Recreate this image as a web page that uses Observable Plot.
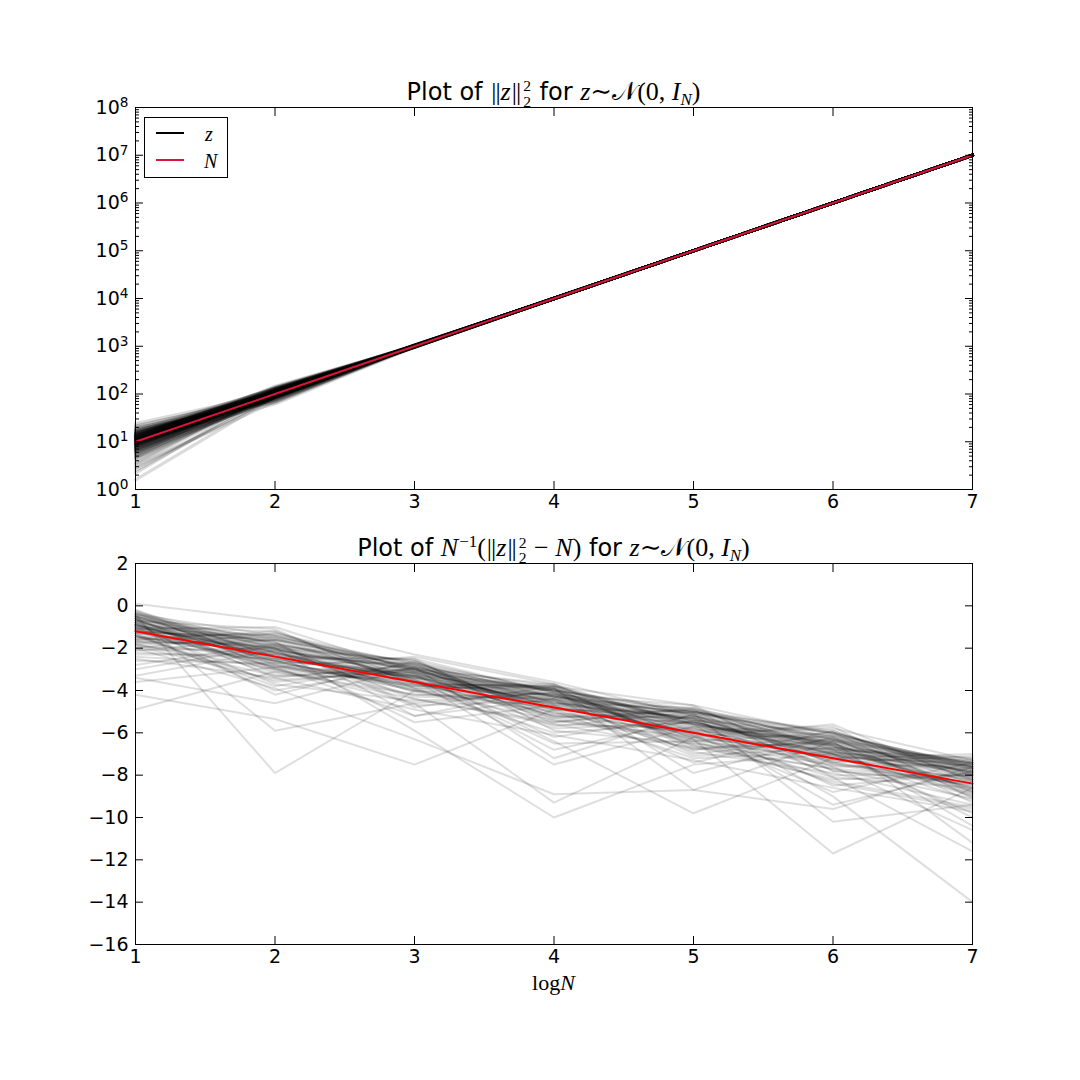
<!DOCTYPE html>
<html>
<head>
<meta charset="utf-8">
<script src="https://cdn.jsdelivr.net/npm/d3@7"></script>
<script src="https://cdn.jsdelivr.net/npm/@observablehq/plot@0.6"></script>
<style>
  html, body { margin: 0; padding: 0; background: #ffffff; }
  #wrap { position: relative; width: 1080px; height: 1080px; background: #ffffff; overflow: hidden; font-family: "DejaVu Sans", sans-serif; color: #000; }
  .panel { position: absolute; left: 0; }
  .title { position: absolute; left: 135px; width: 837px; text-align: center; font-size: 24px; line-height: 28px; white-space: nowrap; }
  .m { font-family: "Liberation Serif", "DejaVu Serif", serif; font-size: 26px; }
  .m i { font-style: italic; }
  .bar { letter-spacing: -1px; margin: 0 1px; }
  .ss { display: inline-block; vertical-align: -0.45em; font-size: 0.6em; line-height: 1.0em; text-align: left; margin-left: 2px; margin-right: 1px; }
  .ss span { display: block; }
  .sub { font-size: 0.65em; vertical-align: -0.3em; }
  .sup { font-size: 0.65em; vertical-align: 0.55em; margin-left: 1px; }
  .legend { position: absolute; left: 144px; top: 117px; width: 82px; height: 59px; border: 1px solid #000; background: #fff; }
  .lg-line { position: absolute; left: 11px; width: 28px; height: 2px; }
  .lg-text { position: absolute; font-family: "Liberation Serif", "DejaVu Serif", serif; font-style: italic; font-size: 20px; line-height: 20px; }
  .xlabel { position: absolute; left: 135px; width: 837px; top: 970px; text-align: center; font-family: "Liberation Serif", "DejaVu Serif", serif; font-size: 22px; }
</style>
</head>
<body>
<div id="wrap">
  <div class="panel" id="topPanel" style="top:0px"></div>
  <div class="panel" id="bottomPanel" style="top:530px"></div>
  <div class="title" style="top:78px">Plot of <span class="m"><span class="bar">||</span><i>z</i><span class="bar">||</span><span class="ss"><span>2</span><span>2</span></span></span> for <span class="m"><i>z</i>∼𝒩(0, <i>I</i><span class="sub"><i>N</i></span>)</span></div>
  <div class="title" style="top:528px">Plot of <span class="m"><i>N</i><span class="sup">−1</span>(<span class="bar">||</span><i>z</i><span class="bar">||</span><span class="ss"><span>2</span><span>2</span></span> − <i>N</i>)</span> for <span class="m"><i>z</i>∼𝒩(0, <i>I</i><span class="sub"><i>N</i></span>)</span></div>
  <div class="legend">
    <div class="lg-line" style="top:14px;background:#000"></div>
    <div class="lg-text" style="left:60px;top:6px">z</div>
    <div class="lg-line" style="top:41px;background:crimson"></div>
    <div class="lg-text" style="left:59px;top:33px">N</div>
  </div>
  <div class="xlabel">log<i>N</i></div>
</div>
<script>
// ---------------- data ----------------
const logN = [1, 2, 3, 4, 5, 6, 7];

// expected value N (red line, top panel)
const expectedNorm = [10, 100, 1000, 10000, 100000, 1000000, 10000000];
// red reference line, bottom panel
const refDeviation = [-1.2, -2.4, -3.6, -4.8, -6.0, -7.2, -8.4];

// ||z||^2 for each trial, one array per N (top panel)
const normSqN1 = [10.2, 7.5, 13.1, 4.8, 16.4, 9.1, 11.8, 6.2, 21.5, 8.4, 12.6, 3.1, 14.9, 10.8, 5.5, 18.7, 9.7, 7.0, 24.0, 11.2, 2.2, 13.8, 8.9, 15.6, 6.8, 10.0, 1.6, 12.2, 9.4, 17.3, 4.1, 11.5, 8.0, 19.9, 7.8, 13.4, 2.8, 10.5, 14.2, 6.5,
  9.6, 12.9, 5.9, 15.1, 8.2, 11.0, 17.8, 7.2, 10.6, 13.6, 4.4, 9.0, 12.4, 6.0, 14.5, 20.8, 8.7, 11.4, 3.6, 10.3, 16.0, 7.7, 12.0, 9.9, 5.2, 13.0, 8.5, 18.2, 11.1, 6.6, 2.5, 14.0, 9.2, 10.9, 7.3, 15.9, 12.8, 4.6, 11.6, 8.8,
  11.3, 8.6, 14.7, 6.9, 10.1, 12.5, 5.7, 16.8, 9.3, 7.9, 13.3, 10.7, 4.9, 11.9, 8.3, 15.3, 9.8, 12.1, 6.4, 10.4, 17.0, 7.4, 13.7, 9.0, 11.7, 5.3, 14.4, 8.1, 10.9, 12.7, 3.4, 9.5, 15.0, 7.1, 11.5, 13.9, 8.7, 10.1, 6.1, 12.3];
const normSqN2 = [96, 112, 88, 104, 131, 79, 101, 118, 92, 85, 125, 70, 108, 97, 140, 90, 115, 83, 103, 62, 120, 94, 106, 75, 128, 99, 87, 110, 145, 81, 100, 117, 93, 68, 109, 122, 86, 102, 113, 78,
  101, 91, 119, 84, 107, 97, 126, 89, 111, 72, 103, 95, 116, 82, 134, 98, 105, 88, 121, 93, 76, 114, 100, 86, 108, 130, 95, 66, 104, 117, 90, 99, 124, 83, 106, 96, 137, 92, 110, 102,
  104, 94, 113, 87, 99, 121, 80, 108, 97, 115, 91, 102, 127, 85, 106, 96, 118, 89, 101, 110, 74, 98, 123, 93, 105, 84, 112, 100, 129, 90, 107, 95, 116, 82, 103, 119, 88, 111, 97, 133];
const normSqN3 = [1012, 985, 1041, 968, 1003, 1027, 952, 1019, 990, 1064, 975, 1008, 1035, 942, 997, 1022, 981, 1050, 1006, 960, 1016, 993, 1030, 971, 1011, 958, 1044, 987, 1002, 1025, 966, 1038, 995, 1013, 979, 1058, 1001, 948, 1020, 989,
  1005, 972, 1033, 991, 1048, 963, 1017, 984, 1026, 955, 1009, 997, 1040, 976, 1014, 1053, 986, 1021, 969, 1031, 999, 945, 1023, 982, 1010, 1037, 974, 1004, 1061, 992, 1016, 961, 1028, 988, 1046, 978, 1007, 1019, 951, 996,
  998, 1024, 970, 1011, 985, 1042, 959, 1007, 1030, 977, 1015, 994, 1052, 967, 1003, 1036, 980, 1019, 956, 1026, 990, 1045, 973, 1009, 1002, 1033, 962, 1018, 987, 1055, 976, 1012, 996, 1039, 968, 1021, 983, 1006, 1047, 993];
const normSqN4 = [10045, 9920, 10130, 9870, 10010, 9955, 10090, 9810, 10060, 9985, 10170, 9900, 10025, 9940, 10105, 9860, 10035, 9975, 10200, 9890, 10015, 9930, 10080, 9965, 9845, 10120, 10000, 9910, 10055, 9950, 10140, 9880, 10020, 9990, 10070, 9825, 10005, 9945, 10095, 9970,
  10030, 9895, 10115, 9960, 10050, 9905, 10085, 9980, 10160, 9875, 10012, 9935, 10065, 9850, 10040, 9995, 10125, 9915, 10028, 9968, 10190, 9885, 10075, 9948, 10008, 9838, 10110, 9925, 10048, 9978, 10150, 9865, 10018, 9958, 10098, 9905, 10062, 9938, 10038, 9988,
  9985, 10072, 9918, 10034, 9962, 10108, 9893, 10051, 9947, 10139, 9871, 10022, 9990, 10083, 9928, 10047, 9853, 10117, 9970, 10009, 10176, 9902, 10058, 9942, 10026, 9882, 10093, 9965, 10041, 9911, 10131, 9957, 10016, 9896, 10067, 9981, 10102, 9934, 10053, 9973];
const normSqN5 = [100120, 99710, 100340, 99880, 100050, 99560, 100230, 99940, 100410, 99800, 100010, 100180, 99650, 100290, 99900, 100070, 99760, 100150, 99990, 100380, 99830, 100100, 99600, 100260, 99920, 100040, 99740, 100200, 99870, 100310, 99960, 99690, 100130, 100020, 99820, 100240, 99910, 100090, 99780, 100170,
  99950, 100210, 99730, 100060, 99840, 100360, 99970, 100110, 99670, 100280, 99890, 100030, 99790, 100190, 99580, 100080, 99930, 100330, 99850, 100140, 99720, 100250, 99980, 100060, 99620, 100300, 99880, 100110, 99770, 100220, 99940, 100400, 99810, 100160, 99700, 100030, 99860, 100270, 99750, 100080,
  100040, 99810, 100230, 99930, 100150, 99690, 100320, 99870, 100060, 99760, 100190, 99960, 100370, 99720, 100100, 99900, 100260, 99640, 100010, 99840, 100140, 99780, 100290, 99950, 100070, 99680, 100210, 99890, 100350, 99820, 100120, 99990, 100180, 99740, 100050, 99910, 100240, 99800, 100090, 99970];
const normSqN6 = [1000850, 998900, 1001300, 999600, 1000200, 998600, 1000700, 999300, 1001100, 999850, 1000400, 998800, 1000950, 999500, 1000100, 1001400, 999100, 1000550, 999750, 1000300, 998700, 1000800, 999400, 1001200, 999950, 1000050, 999200, 1000650, 999650, 1001000, 998950, 1000450, 999550, 1000250, 999800, 1000900, 999350, 1000150, 999700, 1000600,
  999450, 1000750, 999050, 1001150, 999900, 1000350, 998750, 1000600, 999250, 1001350, 999700, 1000050, 998850, 1000900, 999550, 1000250, 999150, 1001050, 999800, 1000500, 998650, 1000700, 999450, 1001250, 999600, 1000150, 999000, 1000850, 999750, 1000400, 998900, 1001100, 999350, 1000300, 999850, 1000950, 999500, 1000200, 999050, 1000650,
  1000300, 999150, 1000950, 999650, 1000500, 998800, 1001200, 999400, 1000100, 999850, 1000750, 999050, 1001050, 999550, 1000250, 998950, 1000650, 999750, 1001300, 999250, 1000400, 999950, 1000850, 998700, 1000150, 999500, 1001150, 999300, 1000550, 999800, 1000050, 999100, 1000800, 999600, 1001000, 999200, 1000350, 999900, 1000700, 999450];
const normSqN7 = [10002500, 9997000, 10004100, 9998800, 10000600, 9995900, 10001900, 9999200, 10003300, 9997800, 10000900, 9996500, 10002800, 9998300, 10001300, 10004400, 9997300, 10000200, 9999600, 10003000, 9996100, 10001600, 9998500, 10003700, 9999900, 10000400, 9997600, 10002100, 9998900, 10001000, 9995600, 10002400, 9999400, 10000700, 9998100, 10003500, 9996800, 10001500, 9999000, 10000300,
  9998600, 10002200, 9996300, 10003900, 9999500, 10001200, 9997500, 10002700, 9998000, 10004200, 9999100, 10000500, 9996700, 10003100, 9998700, 10001700, 9995800, 10002900, 9999300, 10000800, 9997100, 10003400, 9998400, 10001400, 9996000, 10002000, 9999700, 10000100, 9997900, 10003600, 9998200, 10001100, 9996400, 10002600, 9999800, 10000900, 9997400, 10003200, 9998600, 10001800,
  10000800, 9997700, 10003000, 9998900, 10001500, 9996200, 10002600, 9999300, 10000400, 9997200, 10003800, 9998500, 10001900, 9996900, 10002300, 9999600, 10000000, 9997900, 10003300, 9998100, 10001300, 9995700, 10002800, 9999000, 10000600, 9997400, 10004000, 9998300, 10001600, 9996600, 10002100, 9999800, 10000300, 9997600, 10003500, 9998700, 10001100, 9996400, 10002500, 9999500];

// deviation per trial, values at logN = 1..7 (bottom panel)
const deviationTrials = [
  [-0.4, -7.9, -4.0, -4.2, -6.1, -6.8, -8.0],
  [-4.9, -3.1, -3.3, -5.2, -5.5, -7.0, -9.0],
  [-4.2, -5.35, -7.5, -4.9, -5.6, -6.6, -7.9],
  [-1.1, -2.0, -5.9, -10.0, -7.5, -7.0, -8.9],
  [-0.9, -2.6, -3.2, -6.4, -9.8, -7.2, -8.2],
  [-1.5, -2.2, -3.6, -4.5, -6.3, -11.7, -8.6],
  [-1.8, -3.3, -3.0, -5.1, -5.3, -9.0, -14.0],
  [-0.6, -5.9, -4.6, -9.3, -6.2, -8.1, -11.6],
  [-2.0, -3.9, -6.3, -8.9, -8.7, -6.4, -11.2],
  [-3.6, -2.9, -5.2, -3.9, -8.7, -9.6, -7.6],
  [-3.4, -4.6, -2.9, -7.2, -5.1, -10.2, -9.4],
  [0.1, -0.7, -2.3, -3.6, -5.2, -6.6, -10.4],
  [-0.5, -1.6, -2.7, -4.0, -5.0, -6.2, -7.6],
  [-0.9, -2.1, -3.2, -4.3, -5.6, -6.9, -7.8],
  [-1.3, -1.4, -2.9, -4.6, -5.3, -6.4, -7.4],
  [-0.2, -2.8, -3.8, -3.9, -6.5, -7.5, -8.1],
  [-1.7, -1.9, -2.6, -5.3, -4.9, -6.0, -8.8],
  [-0.8, -3.1, -4.2, -4.4, -6.0, -5.8, -7.3],
  [-1.0, -1.2, -3.5, -5.8, -5.5, -7.1, -9.2],
  [-2.2, -2.5, -2.5, -4.1, -7.0, -6.3, -7.7],
  [-0.3, -1.8, -4.8, -3.8, -4.7, -7.8, -8.3],
  [-1.4, -3.6, -3.0, -4.9, -6.8, -6.1, -7.5],
  [-0.7, -1.1, -3.9, -4.2, -5.9, -8.4, -9.6],
  [-1.9, -2.3, -3.3, -6.2, -5.2, -6.7, -7.2],
  [-1.1, -2.9, -2.4, -3.7, -6.3, -7.4, -8.5],
  [-0.4, -2.0, -4.4, -5.5, -4.8, -6.5, -7.9],
  [-1.6, -1.5, -3.1, -4.7, -7.4, -5.9, -8.0],
  [-2.6, -2.7, -3.7, -3.8, -5.7, -7.0, -9.8],
  [-0.6, -3.4, -2.8, -5.0, -6.1, -8.8, -7.4],
  [-1.2, -1.7, -5.2, -4.4, -5.0, -6.3, -8.7],
  [-0.9, -2.4, -3.4, -6.8, -5.4, -6.0, -7.6],
  [-2.0, -1.3, -3.0, -4.0, -6.6, -7.7, -8.2],
  [-0.5, -2.6, -4.0, -4.6, -5.1, -6.8, -10.0],
  [-1.4, -3.8, -2.7, -5.6, -5.8, -7.3, -7.8],
  [-1.0, -2.2, -3.6, -3.9, -7.9, -6.2, -8.4],
  [-3.0, -1.9, -4.1, -4.8, -5.4, -7.6, -7.5],
  [-0.7, -2.5, -3.3, -5.2, -6.0, -6.6, -9.0],
  [-1.8, -1.6, -2.9, -4.3, -4.9, -8.1, -8.6],
  [-0.3, -3.0, -4.6, -4.1, -6.4, -7.0, -7.3],
  [-1.5, -2.0, -3.5, -7.5, -5.7, -6.4, -8.1],
  [-1.1, -1.0, -3.1, -4.5, -6.9, -7.9, -9.4],
  [-2.4, -2.8, -3.8, -4.0, -5.0, -6.0, -7.7],
  [-0.8, -4.2, -2.6, -5.4, -6.2, -6.9, -8.3],
  [-1.3, -2.3, -5.5, -4.7, -5.3, -7.4, -7.1],
  [-0.4, -1.4, -3.0, -3.7, -6.7, -6.5, -8.9],
  [-1.7, -2.6, -3.9, -6.0, -5.5, -8.5, -7.9],
  [-0.9, -3.3, -3.4, -4.2, -4.7, -6.1, -8.0],
  [-2.8, -1.8, -2.8, -5.1, -6.0, -7.2, -7.4],
  [-0.6, -2.1, -4.3, -4.4, -7.1, -6.7, -8.6],
  [-1.2, -2.9, -3.2, -3.9, -5.6, -9.4, -7.8],
  [-1.6, -1.2, -3.7, -4.9, -5.2, -6.3, -8.2],
  [-0.2, -2.4, -2.5, -5.9, -6.5, -7.1, -7.5],
  [-1.0, -3.7, -4.5, -4.1, -5.9, -5.7, -9.1],
  [-2.1, -2.0, -3.3, -4.6, -4.8, -7.5, -8.5],
  [-0.7, -1.5, -3.6, -5.3, -6.3, -6.8, -7.2],
  [-1.4, -2.7, -2.7, -4.3, -5.4, -8.0, -8.0],
  [-0.5, -2.2, -3.9, -3.8, -6.8, -6.4, -7.6],
  [-1.9, -3.5, -3.1, -5.7, -5.0, -6.6, -8.8],
  [-0.8, -1.7, -4.7, -4.5, -5.8, -7.3, -7.7],
  [-1.1, -2.5, -3.4, -4.0, -6.1, -6.2, -9.3],
  [-3.3, -2.1, -3.0, -4.8, -5.5, -7.0, -8.1],
  [-0.6, -3.2, -3.5, -6.5, -6.4, -6.0, -7.9],
  [-1.5, -1.3, -2.8, -4.2, -5.1, -7.8, -8.4],
  [-0.9, -2.6, -4.0, -5.0, -7.2, -6.9, -7.4],
  [-2.3, -2.3, -3.8, -3.7, -5.6, -6.5, -8.7],
  [-0.4, -1.9, -3.2, -4.7, -6.0, -7.6, -10.6],
  [-1.3, -4.0, -2.9, -5.5, -4.9, -6.7, -7.6],
  [-0.7, -2.8, -4.2, -4.3, -6.2, -5.6, -8.3],
  [-1.2, -1.6, -3.6, -5.2, -5.3, -7.2, -7.0],
  [-1.8, -3.0, -3.3, -3.9, -6.6, -8.2, -8.0],
  [-0.6, -1.8, -3.0, -4.4, -5.4, -6.5, -7.7],
  [-1.0, -2.3, -2.8, -4.1, -5.2, -6.9, -7.6],
  [-0.8, -1.9, -3.4, -4.5, -5.0, -6.3, -7.4],
  [-1.4, -2.6, -3.1, -3.9, -5.5, -6.6, -8.0],
  [-0.5, -2.0, -3.7, -4.2, -5.7, -6.1, -7.5],
  [-1.2, -1.5, -2.7, -4.6, -5.3, -7.0, -7.8],
  [-0.3, -2.4, -3.3, -4.0, -4.9, -6.8, -7.3],
  [-1.6, -2.1, -3.0, -4.8, -5.9, -6.4, -7.9],
  [-0.9, -1.7, -3.5, -4.3, -5.1, -6.2, -7.6],
  [-2.5, -3.4, -4.9, -6.1, -7.3, -8.6, -9.7],
  [-0.7, -2.2, -2.9, -3.8, -5.6, -6.7, -7.4],
  [-1.1, -1.4, -3.2, -4.9, -5.0, -5.9, -8.2],
  [-0.4, -2.7, -3.6, -4.4, -6.2, -7.1, -7.7],
  [-1.3, -2.0, -2.6, -4.1, -5.4, -6.5, -8.8],
  [-0.8, -3.0, -4.4, -5.6, -6.7, -7.7, -9.1],
  [-1.7, -1.8, -3.1, -4.0, -5.8, -6.3, -7.5],
  [-0.5, -2.5, -3.4, -4.7, -5.2, -7.4, -8.4],
  [-1.0, -2.2, -4.0, -5.4, -6.4, -8.3, -9.5],
  [-2.1, -1.6, -2.9, -4.3, -5.1, -6.0, -7.8],
  [-0.6, -2.9, -3.7, -3.8, -5.5, -6.8, -8.6]
];

// tick values
const xTicks = [1, 2, 3, 4, 5, 6, 7];
const topMajorTicks = [1e0, 1e1, 1e2, 1e3, 1e4, 1e5, 1e6, 1e7, 1e8];
const topExponents = [0, 1, 2, 3, 4, 5, 6, 7, 8];
const bottomTicks = [2, 0, -2, -4, -6, -8, -10, -12, -14, -16];

// ---------------- build tables ----------------
const normSqByN = [normSqN1, normSqN2, normSqN3, normSqN4, normSqN5, normSqN6, normSqN7];
const topRows = [];
normSqN1.forEach((_, i) => logN.forEach((x, j) => topRows.push({x, y: normSqByN[j][i], trial: i})));
const topRed = logN.map((x, j) => ({x, y: expectedNorm[j]}));

const bottomRows = [];
deviationTrials.forEach((vals, i) => vals.forEach((v, j) => bottomRows.push({x: logN[j], y: v, trial: i})));
const bottomRed = logN.map((x, j) => ({x, y: refDeviation[j]}));

const minorTicks = [];
topMajorTicks.slice(0, -1).forEach(m => [2,3,4,5,6,7,8,9].forEach(k => minorTicks.push(m * k)));

const fmtNum = d => (d < 0 ? "\u2212" + Math.abs(d) : String(d));
const blank = () => "";
const style = {fontSize: "19px", fontFamily: "DejaVu Sans, sans-serif", color: "black", background: "transparent", overflow: "visible"};

const topPlot = Plot.plot({
  width: 1080, height: 530,
  marginLeft: 135, marginRight: 108, marginTop: 107, marginBottom: 41,
  style,
  x: {domain: [1, 7], label: null},
  y: {type: "log", domain: [1, 1e8], label: null},
  marks: [
    Plot.line(topRows, {x: "x", y: "y", z: "trial", stroke: "black", strokeOpacity: 0.14, strokeWidth: 3.2}),
    Plot.line(topRed, {x: "x", y: "y", stroke: "crimson", strokeWidth: 2}),
    Plot.frame({stroke: "black", strokeWidth: 1}),
    Plot.axisX({anchor: "bottom", ticks: xTicks, tickSize: -8, tickPadding: 13, tickFormat: fmtNum, label: null}),
    Plot.axisX({anchor: "top", ticks: xTicks, tickSize: -8, tickFormat: blank, label: null}),
    Plot.axisY({anchor: "left", ticks: topMajorTicks, tickSize: -8, tickPadding: 15, tickFormat: d => "10^" + topExponents[topMajorTicks.indexOf(d)], label: null}),
    Plot.axisY({anchor: "left", ticks: minorTicks, tickSize: -4, tickFormat: blank, label: null}),
    Plot.axisY({anchor: "right", ticks: topMajorTicks, tickSize: -8, tickFormat: blank, label: null}),
    Plot.axisY({anchor: "right", ticks: minorTicks, tickSize: -4, tickFormat: blank, label: null})
  ]
});
document.getElementById("topPanel").appendChild(topPlot);

// superscript exponents for log tick labels
d3.select(topPlot).selectAll("text").each(function() {
  const t = this.textContent;
  if (t && t.startsWith("10^")) {
    const exp = t.slice(3);
    const sel = d3.select(this);
    sel.text(null);
    sel.append("tspan").text("10");
    sel.append("tspan").attr("dy", "-0.5em").attr("font-size", "0.72em").text(exp);
  }
});

const bottomPlot = Plot.plot({
  width: 1080, height: 550,
  marginLeft: 135, marginRight: 108, marginTop: 33, marginBottom: 136,
  style,
  x: {domain: [1, 7], label: null},
  y: {domain: [-16, 2], label: null},
  marks: [
    Plot.line(bottomRows, {x: "x", y: "y", z: "trial", stroke: "black", strokeOpacity: 0.13, strokeWidth: 2}),
    Plot.line(bottomRed, {x: "x", y: "y", stroke: "red", strokeWidth: 2}),
    Plot.frame({stroke: "black", strokeWidth: 1}),
    Plot.axisX({anchor: "bottom", ticks: xTicks, tickSize: -8, tickPadding: 13, tickFormat: fmtNum, label: null}),
    Plot.axisX({anchor: "top", ticks: xTicks, tickSize: -8, tickFormat: blank, label: null}),
    Plot.axisY({anchor: "left", ticks: bottomTicks, tickSize: -8, tickPadding: 15, tickFormat: fmtNum, label: null}),
    Plot.axisY({anchor: "right", ticks: bottomTicks, tickSize: -8, tickFormat: blank, label: null})
  ]
});
document.getElementById("bottomPanel").appendChild(bottomPlot);
</script>
</body>
</html>
